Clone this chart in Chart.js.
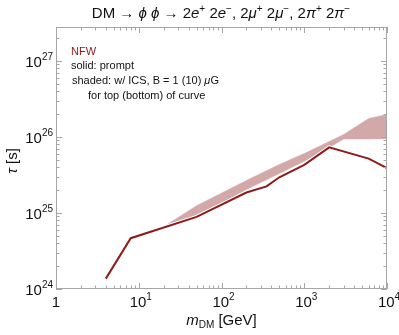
<!DOCTYPE html>
<html>
<head>
<meta charset="utf-8">
<script src="https://cdn.jsdelivr.net/npm/chart.js@4"></script>
<style>
  html, body { margin: 0; padding: 0; background: #fff; }
  #wrap { width: 399px; height: 335px; }
</style>
</head>
<body>
<div id="wrap"><canvas id="tau__chart" width="399" height="335"></canvas></div>
<script>
// prompt-only lifetime bound (solid line)
var massPrompt = [4, 8, 50, 200, 350, 500, 1000, 2000, 6000, 10000];
var tauPrompt = [1.37e24, 4.66e24, 8.9e24, 1.86e25, 2.24e25, 2.95e25, 4.3e25, 7.3e25, 5.2e25, 3.9e25];
// with ICS, top (B = 1 muG) and bottom (B = 10 muG) of the band
var massICS = [8, 20, 50, 200, 500, 1000, 2000, 3000, 6000, 10000];
var tauICSTop = [4.66e24, 6.6e24, 1.25e25, 2.68e25, 4.35e25, 6.07e25, 8.7e25, 1.08e26, 1.75e26, 1.98e26];
var tauICSBottom = [4.66e24, 6.44e24, 8.9e24, 2.04e25, 3.3e25, 4.8e25, 7.3e25, 9.4e25, 9.4e25, 9.5e25];
var xTicks = [1, 10, 100, 1000, 10000];
var yTicks = [1e24, 1e25, 1e26, 1e27];

var FONT = '"Liberation Sans", Arial, sans-serif';
var RED = '#8e1b1b';

function pts(xs, ys) {
    return xs.map(function (m, i) { return {x: m, y: ys[i]}; });
}

// draw text made of pieces (italic, superscript, subscript)
function rich(ctx, parts, x, y, align) {
    var w = 0;
    parts.forEach(function (p) { ctx.font = p.f; w += ctx.measureText(p.t).width; });
    var cx = align === 'center' ? x - w / 2 : (align === 'right' ? x - w : x);
    parts.forEach(function (p) {
        ctx.font = p.f;
        ctx.fillText(p.t, cx, y + (p.dy || 0));
        cx += ctx.measureText(p.t).width;
    });
}

var n15 = '15px ' + FONT, i15 = 'italic 15px ' + FONT, s10 = '10px ' + FONT;

var framePlugin = {
    id: 'frame',
    afterDraw: function (chart) {
        var ctx = chart.ctx, a = chart.chartArea;
        var xs = chart.scales.x, ys = chart.scales.y;
        ctx.save();
        ctx.strokeStyle = '#a6a6a6';
        ctx.lineWidth = 1;
        ctx.strokeRect(Math.round(a.left) + 0.5, Math.round(a.top) + 0.5,
            Math.round(a.right - a.left) - 1, Math.round(a.bottom - a.top) - 1);

        ctx.beginPath();
        // x ticks, inward on bottom and top
        for (var e = 0; e <= 4; e++) {
            for (var k = 1; k <= 9; k++) {
                var v = k * Math.pow(10, e);
                if (v < xs.min || v > xs.max) continue;
                var px = Math.round(xs.getPixelForValue(v)) + 0.5;
                var len = k === 1 ? 6 : 3.5;
                ctx.moveTo(px, a.bottom); ctx.lineTo(px, a.bottom - len);
                ctx.moveTo(px, a.top); ctx.lineTo(px, a.top + len);
            }
        }
        // y ticks, inward on left and right
        for (var e2 = 24; e2 <= 27; e2++) {
            for (var k2 = 1; k2 <= 9; k2++) {
                var v2 = k2 * Math.pow(10, e2);
                if (v2 < ys.min || v2 > ys.max) continue;
                var py = Math.round(ys.getPixelForValue(v2)) + 0.5;
                var len2 = k2 === 1 ? 6 : 3.5;
                ctx.moveTo(a.left, py); ctx.lineTo(a.left + len2, py);
                ctx.moveTo(a.right, py); ctx.lineTo(a.right - len2, py);
            }
        }
        ctx.stroke();

        ctx.fillStyle = '#111';
        ctx.textBaseline = 'alphabetic';
        // tick labels
        xTicks.forEach(function (v) {
            var px = xs.getPixelForValue(v);
            var e = Math.round(Math.log10(v));
            if (e === 0) rich(ctx, [{t: '1', f: n15}], px, 307, 'center');
            else rich(ctx, [{t: '10', f: n15}, {t: String(e), f: s10, dy: -7}], px + 2, 307, 'center');
        });
        yTicks.forEach(function (v) {
            var py = ys.getPixelForValue(v);
            var e = Math.round(Math.log10(v));
            rich(ctx, [{t: '10', f: n15}, {t: String(e), f: s10, dy: -7}], a.left - 3, py + 6, 'right');
        });

        // axis titles
        rich(ctx, [{t: 'm', f: i15}, {t: 'DM', f: s10, dy: 3}, {t: ' [GeV]', f: n15}],
            (a.left + a.right) / 2, 325, 'center');
        ctx.save();
        ctx.translate(17, (a.top + a.bottom) / 2 + 3);
        ctx.rotate(-Math.PI / 2);
        rich(ctx, [{t: 'τ', f: i15}, {t: ' [s]', f: n15}], 0, 0, 'center');
        ctx.restore();

        // title
        var sup = function (t) { return {t: t, f: s10, dy: -6}; };
        var nn = function (t) { return {t: t, f: n15}; };
        var it = function (t) { return {t: t, f: i15}; };
        rich(ctx, [nn('DM \u2192 '), it('\u03d5'), nn(' '), it('\u03d5'), nn(' \u2192 2'), it('e'), sup('+'),
            nn(' 2'), it('e'), sup('\u2212'), nn(', 2'), it('\u03bc'), sup('+'), nn(' 2'), it('\u03bc'), sup('\u2212'),
            nn(', 2'), it('\u03c0'), sup('+'), nn(' 2'), it('\u03c0'), sup('\u2212')], 221, 18, 'center');

        // legend text
        var f11 = '11px ' + FONT, fi11 = 'italic 11px ' + FONT;
        ctx.fillStyle = RED;
        rich(ctx, [{t: 'NFW', f: f11}], 71, 55, 'left');
        ctx.fillStyle = '#111';
        rich(ctx, [{t: 'solid: prompt', f: f11}], 71, 69, 'left');
        rich(ctx, [{t: 'shaded: w/ ICS, B = 1 (10) ', f: f11}, {t: '\u03bc', f: fi11}, {t: 'G', f: f11}], 72, 84, 'left');
        rich(ctx, [{t: 'for top (bottom) of curve', f: f11}], 88, 99, 'left');
        ctx.restore();
    }
};

var ctx = document.getElementById('tau__chart').getContext('2d');
var tauChart = new Chart(ctx, {
    type: 'line',
    data: {
        datasets: [{
            label: 'prompt',
            data: pts(massPrompt, tauPrompt),
            borderColor: RED,
            borderWidth: 2,
            pointRadius: 0,
            fill: false,
            order: 0
        }, {
            label: 'halo',
            data: pts(massPrompt, tauPrompt),
            borderColor: '#ffffff',
            borderWidth: 4,
            pointRadius: 0,
            fill: false,
            order: 1
        }, {
            label: 'ICS top',
            data: pts(massICS, tauICSTop),
            borderColor: '#d3a8a8',
            borderWidth: 0.5,
            backgroundColor: '#d3a8a8',
            pointRadius: 0,
            fill: '+1',
            order: 2
        }, {
            label: 'ICS bottom',
            data: pts(massICS, tauICSBottom),
            borderColor: '#d3a8a8',
            borderWidth: 0.5,
            pointRadius: 0,
            fill: false,
            order: 3
        }]
    },
    options: {
        responsive: false,
        animation: false,
        layout: {
            padding: {left: 56, right: 12, top: 27, bottom: 46}
        },
        plugins: {
            legend: {display: false},
            tooltip: {enabled: false}
        },
        scales: {
            x: {type: 'logarithmic', min: 1, max: 10000, display: false},
            y: {type: 'logarithmic', min: 1e24, max: 2.8e27, display: false}
        }
    },
    plugins: [framePlugin]
});
</script>
</body>
</html>
